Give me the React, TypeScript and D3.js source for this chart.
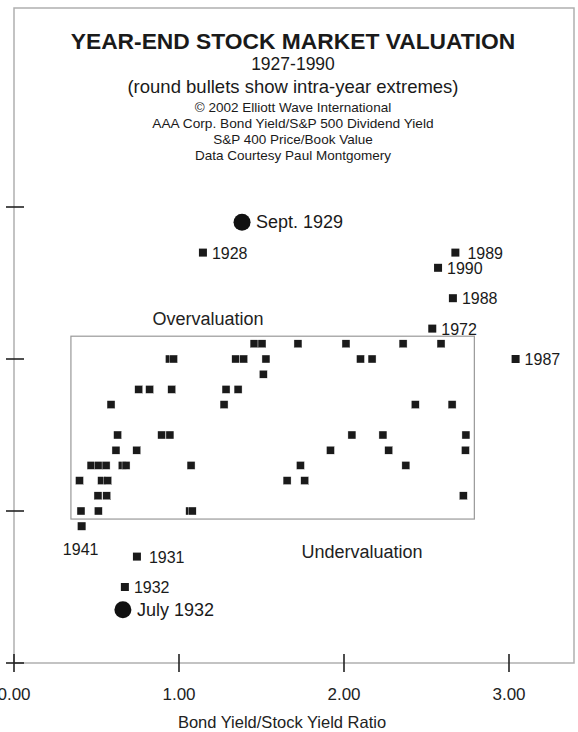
import React, { useEffect, useRef } from 'react';
import * as d3 from 'd3';

// year-end points inside the box (unlabelled)
const boxX = [
  1.455, 1.503, 1.721, 2.012, 2.358, 2.588,
  0.942, 0.967, 1.344, 1.392, 1.527, 2.10, 2.17,
  1.511,
  0.756, 0.822, 0.956, 1.285, 1.358,
  0.588, 1.273, 2.432, 2.655,
  0.628, 0.895, 0.945, 2.048, 2.236, 2.739,
  0.618, 0.744, 1.918, 2.271, 2.736,
  0.467, 0.512, 0.558, 0.656, 0.679, 1.073, 1.736, 2.375,
  0.397, 0.531, 0.568, 1.655, 1.762,
  0.509, 0.562, 2.723,
  0.406, 0.511, 1.065, 1.08,
];
const boxY = [
  2.1, 2.1, 2.1, 2.1, 2.1, 2.1,
  2.0, 2.0, 2.0, 2.0, 2.0, 2.0, 2.0,
  1.9,
  1.8, 1.8, 1.8, 1.8, 1.8,
  1.7, 1.7, 1.7, 1.7,
  1.5, 1.5, 1.5, 1.5, 1.5, 1.5,
  1.4, 1.4, 1.4, 1.4, 1.4,
  1.3, 1.3, 1.3, 1.3, 1.3, 1.3, 1.3, 1.3,
  1.2, 1.2, 1.2, 1.2, 1.2,
  1.1, 1.1, 1.1,
  1.0, 1.0, 1.0, 1.0,
];

// labelled year-end points
const yearLabels = ['1928', '1990', '1989', '1988', '1972', '1987', '1931', '1932', '1941'];
const yearX = [1.145, 2.57, 2.675, 2.66, 2.535, 3.04, 0.745, 0.672, 0.41];
const yearY = [2.7, 2.6, 2.7, 2.4, 2.2, 2.0, 0.7, 0.5, 0.9];

// intra-year extremes (round bullets)
const extremeLabels = ['Sept. 1929', 'July 1932'];
const extremeX = [1.382, 0.66];
const extremeY = [2.9, 0.35];

const xTicks = [0, 1, 2, 3];
const xTickLabels = ['0.00', '1.00', '2.00', '3.00'];
const yTicks = [0, 1, 2, 3];

const boxRange = { x0: 0.345, x1: 2.79, y0: 0.947, y1: 2.15 };

export default function App() {
  const ref = useRef<SVGSVGElement>(null);

  useEffect(() => {
    if (!ref.current) return;
    const svg = d3.select(ref.current);
    svg.selectAll('*').remove();

    const width = 578;
    const height = 732;
    const left = 14, right = 574, top = 8, bottom = 663;

    const x = d3.scaleLinear().domain([0, (right - left) / 165]).range([left, right]);
    const y = d3.scaleLinear().domain([0, (bottom - top) / 152]).range([bottom, top]);

    svg.attr('font-family', '"Liberation Sans", Arial, Helvetica, sans-serif');

    svg.append('rect').attr('width', width).attr('height', height).attr('fill', '#fff');

    // frame
    svg.append('path')
      .attr('d', `M${left},${bottom}V${top}H${right}V${bottom}H${left}`)
      .attr('fill', 'none')
      .attr('stroke', '#b0b0b0')
      .attr('stroke-width', 1.5);

    // ticks (cross the frame line)
    svg.append('g').selectAll('line').data(xTicks).join('line')
      .attr('x1', d => x(d)).attr('x2', d => x(d))
      .attr('y1', bottom - 9).attr('y2', bottom + 9)
      .attr('stroke', '#222').attr('stroke-width', 1.6);
    svg.append('g').selectAll('line').data(yTicks).join('line')
      .attr('x1', left - 8).attr('x2', left + 10)
      .attr('y1', d => y(d)).attr('y2', d => y(d))
      .attr('stroke', '#222').attr('stroke-width', 1.6);

    svg.append('g').selectAll('text').data(xTicks).join('text')
      .attr('x', d => x(d)).attr('y', 700)
      .attr('text-anchor', 'middle').attr('font-size', 17).attr('fill', '#222')
      .text((d, i) => xTickLabels[i]);

    svg.append('text').attr('x', 282).attr('y', 728)
      .attr('text-anchor', 'middle').attr('font-size', 16.5).attr('fill', '#222')
      .text('Bond Yield/Stock Yield Ratio');

    // titles
    const titles: [string, number, number, string][] = [
      ['YEAR-END STOCK MARKET VALUATION', 49, 22.8, 'bold'],
      ['1927-1990', 70, 17.5, 'normal'],
      ['(round bullets show intra-year extremes)', 93, 18.5, 'normal'],
      ['© 2002 Elliott Wave International', 112, 13.5, 'normal'],
      ['AAA Corp. Bond Yield/S&P 500 Dividend Yield', 128, 13.7, 'normal'],
      ['S&P 400 Price/Book Value', 144, 13.5, 'normal'],
      ['Data Courtesy Paul Montgomery', 160, 13.5, 'normal'],
    ];
    svg.append('g').selectAll('text').data(titles).join('text')
      .attr('x', 293).attr('y', d => d[1])
      .attr('text-anchor', 'middle')
      .attr('font-size', d => d[2])
      .attr('font-weight', d => d[3])
      .attr('fill', '#1a1a1a')
      .text(d => d[0]);

    // valuation box
    svg.append('rect')
      .attr('x', x(boxRange.x0)).attr('y', y(boxRange.y1))
      .attr('width', x(boxRange.x1) - x(boxRange.x0))
      .attr('height', y(boxRange.y0) - y(boxRange.y1))
      .attr('fill', 'none').attr('stroke', '#999').attr('stroke-width', 1.2);

    svg.append('text').attr('x', 208).attr('y', 325)
      .attr('text-anchor', 'middle').attr('font-size', 18).attr('fill', '#222')
      .text('Overvaluation');
    svg.append('text').attr('x', 362).attr('y', 558)
      .attr('text-anchor', 'middle').attr('font-size', 18).attr('fill', '#222')
      .text('Undervaluation');

    const s = 8;
    // unlabelled squares
    svg.append('g').selectAll('rect').data(boxX).join('rect')
      .attr('x', d => x(d) - s / 2)
      .attr('y', (d, i) => y(boxY[i]) - s / 2)
      .attr('width', s).attr('height', s)
      .attr('fill', '#1a1a1a').attr('stroke', '#fff').attr('stroke-width', 0.4);

    // labelled squares
    const yg = svg.append('g');
    yg.selectAll('rect').data(yearX).join('rect')
      .attr('x', d => x(d) - s / 2)
      .attr('y', (d, i) => y(yearY[i]) - s / 2)
      .attr('width', s).attr('height', s)
      .attr('fill', '#1a1a1a');
    yg.selectAll('text').data(yearX).join('text')
      .attr('x', (d, i) => yearLabels[i] === '1941' ? x(d) - 1 : x(d) + (yearLabels[i] === '1931' || yearLabels[i] === '1989' ? 12 : 9))
      .attr('y', (d, i) => yearLabels[i] === '1941' ? y(yearY[i]) + 29 : y(yearY[i]) + 6)
      .attr('text-anchor', (d, i) => yearLabels[i] === '1941' ? 'middle' : 'start')
      .attr('font-size', 16).attr('fill', '#1a1a1a')
      .text((d, i) => yearLabels[i]);

    // round bullets
    const eg = svg.append('g');
    eg.selectAll('circle').data(extremeX).join('circle')
      .attr('cx', d => x(d)).attr('cy', (d, i) => y(extremeY[i]))
      .attr('r', 8.5).attr('fill', '#111');
    eg.selectAll('text').data(extremeX).join('text')
      .attr('x', d => x(d) + 14).attr('y', (d, i) => y(extremeY[i]) + 6)
      .attr('font-size', 18).attr('fill', '#1a1a1a')
      .text((d, i) => extremeLabels[i]);
  }, []);

  return (
    <svg
      ref={ref}
      width={578}
      height={732}
      style={{ position: 'absolute', left: 0, top: 0, display: 'block' }}
    />
  );
}
